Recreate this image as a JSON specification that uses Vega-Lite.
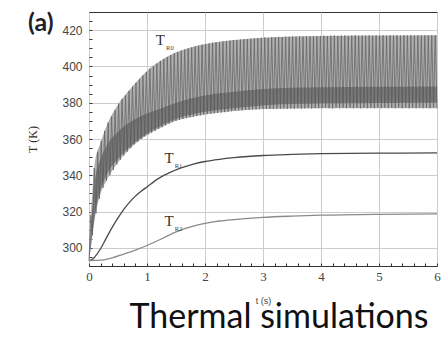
{
"$schema": "https://vega.github.io/schema/vega-lite/v6.json",
"width": 348, "height": 254,
"autosize": "none",
"padding": {"left": 89, "top": 12, "right": 4, "bottom": 72},
"background": "white",
"config": {"view": {"stroke": "#333333", "strokeWidth": 1}},
"title": {"text": "Thermal simulations", "orient": "bottom", "anchor": "middle", "font": "Lato", "fontSize": 34, "fontWeight": "normal", "color": "#111", "offset": -4, "dx": 16},
"datasets": {
"env": [
{"t":0,"lo":293,"v":293},
{"t":0.03,"lo":299,"v":318},
{"t":0.06,"lo":307,"v":332},
{"t":0.1,"lo":316,"v":347},
{"t":0.2,"lo":330,"v":358},
{"t":0.3,"lo":337,"v":367},
{"t":0.5,"lo":347,"v":379},
{"t":0.75,"lo":356,"v":389},
{"t":1.0,"lo":362,"v":397.5},
{"t":1.25,"lo":366.5,"v":403.5},
{"t":1.5,"lo":370,"v":407.8},
{"t":1.75,"lo":372,"v":410.5},
{"t":2.0,"lo":373.5,"v":412.3},
{"t":2.5,"lo":375.5,"v":414.5},
{"t":3.0,"lo":376.5,"v":415.8},
{"t":4.0,"lo":377,"v":416.8},
{"t":5.0,"lo":377,"v":417},
{"t":6.0,"lo":377,"v":417.2}
],
"band": [
{"t":0,"lo":293,"v":293},
{"t":0.05,"lo":306,"v":318},
{"t":0.1,"lo":318,"v":336},
{"t":0.2,"lo":332,"v":349},
{"t":0.3,"lo":340,"v":356},
{"t":0.5,"lo":349,"v":364},
{"t":0.75,"lo":357,"v":370},
{"t":1.0,"lo":363,"v":374},
{"t":1.25,"lo":367.5,"v":377},
{"t":1.5,"lo":371,"v":380},
{"t":2.0,"lo":375,"v":384},
{"t":2.5,"lo":377,"v":386},
{"t":3.0,"lo":378.5,"v":387.5},
{"t":4.0,"lo":379.5,"v":388.5},
{"t":6.0,"lo":380,"v":389}
],
"osc": [
{"t":0,"v":293},{"t":0.03,"v":318},{"t":0.06,"v":307},{"t":0.09,"v":344},{"t":0.12,"v":319},{"t":0.15,"v":353},{"t":0.18,"v":327},{"t":0.21,"v":359},{"t":0.24,"v":333},{"t":0.27,"v":364.5},
{"t":0.30,"v":337},{"t":0.33,"v":369},{"t":0.36,"v":340},{"t":0.39,"v":372.5},{"t":0.42,"v":343},{"t":0.45,"v":376},{"t":0.48,"v":346},{"t":0.51,"v":379.5},{"t":0.54,"v":348.5},{"t":0.57,"v":382},
{"t":0.60,"v":351},{"t":0.63,"v":384},{"t":0.66,"v":353},{"t":0.69,"v":386.5},{"t":0.72,"v":355},{"t":0.75,"v":389},{"t":0.78,"v":357},{"t":0.81,"v":391},{"t":0.84,"v":358.5},{"t":0.87,"v":393},
{"t":0.90,"v":360},{"t":0.93,"v":395},{"t":0.96,"v":361.5},{"t":0.99,"v":397},{"t":1.02,"v":362.5},{"t":1.05,"v":398.8},{"t":1.08,"v":363.5},{"t":1.11,"v":400.2},{"t":1.14,"v":364.5},{"t":1.17,"v":401.6},
{"t":1.20,"v":365.5},{"t":1.23,"v":403},{"t":1.26,"v":366.5},{"t":1.29,"v":404.1},{"t":1.32,"v":367.5},{"t":1.35,"v":405.2},{"t":1.38,"v":368.5},{"t":1.41,"v":406.2},{"t":1.44,"v":369.3},{"t":1.47,"v":407.2},
{"t":1.50,"v":370},{"t":1.53,"v":408},{"t":1.56,"v":370.5},{"t":1.59,"v":408.7},{"t":1.62,"v":371},{"t":1.65,"v":409.3},{"t":1.68,"v":371.5},{"t":1.71,"v":409.9},{"t":1.74,"v":372},{"t":1.77,"v":410.5},
{"t":1.80,"v":372.3},{"t":1.83,"v":411},{"t":1.86,"v":372.6},{"t":1.89,"v":411.4},{"t":1.92,"v":373},{"t":1.95,"v":411.9},{"t":1.98,"v":373.4},{"t":2.01,"v":412.3},{"t":2.04,"v":373.7},{"t":2.07,"v":412.6},
{"t":2.10,"v":374},{"t":2.13,"v":413},{"t":2.16,"v":374.2},{"t":2.19,"v":413.3},{"t":2.22,"v":374.4},{"t":2.25,"v":413.5},{"t":2.28,"v":374.6},{"t":2.31,"v":413.8},{"t":2.34,"v":374.8},{"t":2.37,"v":414},
{"t":2.40,"v":375},{"t":2.43,"v":414.2},{"t":2.46,"v":375.3},{"t":2.49,"v":414.5},{"t":2.52,"v":375.5},{"t":2.55,"v":414.6},{"t":2.58,"v":375.7},{"t":2.61,"v":414.8},{"t":2.64,"v":375.8},{"t":2.67,"v":415},
{"t":2.70,"v":376},{"t":2.73,"v":415.1},{"t":2.76,"v":376},{"t":2.79,"v":415.3},{"t":2.82,"v":376.2},{"t":2.85,"v":415.4},{"t":2.88,"v":376.3},{"t":2.91,"v":415.6},{"t":2.94,"v":376.4},{"t":2.97,"v":415.8},
{"t":3.00,"v":376.5},{"t":3.03,"v":416},{"t":3.06,"v":376.5},{"t":3.09,"v":415.8},{"t":3.12,"v":376.6},{"t":3.15,"v":416.1},{"t":3.18,"v":376.5},{"t":3.21,"v":416},{"t":3.24,"v":376.7},{"t":3.27,"v":416.3},
{"t":3.30,"v":376.6},{"t":3.33,"v":416.2},{"t":3.36,"v":376.8},{"t":3.39,"v":416.4},{"t":3.42,"v":376.6},{"t":3.45,"v":416.3},{"t":3.48,"v":376.8},{"t":3.51,"v":416.5},{"t":3.54,"v":376.7},{"t":3.57,"v":416.4},
{"t":3.60,"v":376.9},{"t":3.63,"v":416.6},{"t":3.66,"v":376.7},{"t":3.69,"v":416.5},{"t":3.72,"v":376.9},{"t":3.75,"v":416.7},{"t":3.78,"v":377},{"t":3.81,"v":416.6},{"t":3.84,"v":376.8},{"t":3.87,"v":416.8},
{"t":3.90,"v":377},{"t":3.93,"v":416.7},{"t":3.96,"v":377},{"t":3.99,"v":416.8},{"t":4.02,"v":377},{"t":4.05,"v":417},{"t":4.08,"v":377.3},{"t":4.11,"v":416.8},{"t":4.14,"v":377},{"t":4.17,"v":417},
{"t":4.20,"v":376.8},{"t":4.23,"v":417.1},{"t":4.26,"v":377.3},{"t":4.29,"v":416.9},{"t":4.32,"v":377},{"t":4.35,"v":417},{"t":4.38,"v":377.3},{"t":4.41,"v":417.1},{"t":4.44,"v":377},{"t":4.47,"v":416.9},
{"t":4.50,"v":377.3},{"t":4.53,"v":417},{"t":4.56,"v":377},{"t":4.59,"v":417.2},{"t":4.62,"v":377.3},{"t":4.65,"v":417},{"t":4.68,"v":376.9},{"t":4.71,"v":417.1},{"t":4.74,"v":377.3},{"t":4.77,"v":417},
{"t":4.80,"v":377},{"t":4.83,"v":417.2},{"t":4.86,"v":377.3},{"t":4.89,"v":417},{"t":4.92,"v":377},{"t":4.95,"v":417.1},{"t":4.98,"v":377.3},{"t":5.01,"v":417},{"t":5.04,"v":377},{"t":5.07,"v":417.2},
{"t":5.10,"v":377.3},{"t":5.13,"v":417},{"t":5.16,"v":377},{"t":5.19,"v":417.2},{"t":5.22,"v":377.3},{"t":5.25,"v":417.1},{"t":5.28,"v":377},{"t":5.31,"v":417.2},{"t":5.34,"v":377.3},{"t":5.37,"v":417},
{"t":5.40,"v":377},{"t":5.43,"v":417.2},{"t":5.46,"v":377.3},{"t":5.49,"v":417.1},{"t":5.52,"v":377},{"t":5.55,"v":417.2},{"t":5.58,"v":377.3},{"t":5.61,"v":417.1},{"t":5.64,"v":377},{"t":5.67,"v":417.2},
{"t":5.70,"v":377.3},{"t":5.73,"v":417.1},{"t":5.76,"v":377},{"t":5.79,"v":417.2},{"t":5.82,"v":377.3},{"t":5.85,"v":417.1},{"t":5.88,"v":377},{"t":5.91,"v":417.2},{"t":5.94,"v":377.3},{"t":5.97,"v":417.2},
{"t":6.00,"v":377}
],
"curves": [
{"t":0,"v":293,"s":"R1"},{"t":0.05,"v":293.5,"s":"R1"},{"t":0.1,"v":295,"s":"R1"},{"t":0.2,"v":299.5,"s":"R1"},{"t":0.3,"v":305.5,"s":"R1"},{"t":0.4,"v":311.3,"s":"R1"},{"t":0.5,"v":316.5,"s":"R1"},{"t":0.6,"v":321.2,"s":"R1"},{"t":0.7,"v":325.2,"s":"R1"},{"t":0.8,"v":328.5,"s":"R1"},{"t":0.9,"v":331.2,"s":"R1"},{"t":1.0,"v":333.6,"s":"R1"},{"t":1.2,"v":338.3,"s":"R1"},{"t":1.4,"v":341.6,"s":"R1"},{"t":1.6,"v":344.2,"s":"R1"},{"t":1.8,"v":346.2,"s":"R1"},{"t":2.0,"v":347.6,"s":"R1"},{"t":2.25,"v":348.8,"s":"R1"},{"t":2.5,"v":349.7,"s":"R1"},{"t":3.0,"v":350.9,"s":"R1"},{"t":3.5,"v":351.5,"s":"R1"},{"t":4.0,"v":351.9,"s":"R1"},{"t":5.0,"v":352.2,"s":"R1"},{"t":6.0,"v":352.3,"s":"R1"},
{"t":0,"v":293,"s":"R2"},{"t":0.2,"v":293.2,"s":"R2"},{"t":0.4,"v":294.5,"s":"R2"},{"t":0.6,"v":296.6,"s":"R2"},{"t":0.8,"v":298.8,"s":"R2"},{"t":1.0,"v":301.3,"s":"R2"},{"t":1.2,"v":304.2,"s":"R2"},{"t":1.4,"v":307.3,"s":"R2"},{"t":1.6,"v":310,"s":"R2"},{"t":1.8,"v":312,"s":"R2"},{"t":2.0,"v":313.5,"s":"R2"},{"t":2.25,"v":314.8,"s":"R2"},{"t":2.5,"v":315.6,"s":"R2"},{"t":3.0,"v":316.8,"s":"R2"},{"t":3.5,"v":317.5,"s":"R2"},{"t":4.0,"v":318,"s":"R2"},{"t":5.0,"v":318.5,"s":"R2"},{"t":6.0,"v":318.7,"s":"R2"}
],
"lab": [
{"t":1.23,"v":414.5,"sub":"R0"},{"t":1.38,"v":349.5,"sub":"R1"},{"t":1.38,"v":314.7,"sub":"R2"}
],
"tag": [{"t":-0.83,"v":424,"txt":"(a)"}]
},
"encoding": {
"x": {"field": "t", "type": "quantitative", "scale": {"domain": [0, 6], "nice": false},
"axis": {
"values": [0,0.2,0.4,0.6,0.8,1,1.2,1.4,1.6,1.8,2,2.2,2.4,2.6,2.8,3,3.2,3.4,3.6,3.8,4,4.2,4.4,4.6,4.8,5,5.2,5.4,5.6,5.8,6],
"title": "t (s)", "titleFont": "Liberation Sans", "titleFontSize": 9, "titleFontWeight": "normal", "titleColor": "#444", "titlePadding": 13,
"labelFont": "Liberation Serif", "labelFontSize": 13, "labelColor": "#444", "labelPadding": 7,
"labelExpr": "datum.value % 1 === 0 ? '' + datum.value : ''",
"labelOverlap": false, "labelFlush": false, "labelBound": false,
"tickSize": -3,
"tickColor": "#333", "domain": false,
"grid": true, "gridColor": "#cccccc", "gridWidth": 1,
"gridOpacity": {"condition": {"test": "datum.value % 1 === 0", "value": 1}, "value": 0}
}},
"y": {"field": "v", "type": "quantitative", "scale": {"domain": [290, 430], "nice": false, "zero": false},
"axis": {
"values": [290,295,300,305,310,315,320,325,330,335,340,345,350,355,360,365,370,375,380,385,390,395,400,405,410,415,420,425,430],
"title": "T (K)", "titleFont": "Liberation Serif", "titleFontSize": 12, "titleFontWeight": "normal", "titleColor": "#333", "titlePadding": 22,
"labelFont": "Liberation Sans", "labelFontSize": 12, "labelColor": "#444", "labelPadding": 10,
"labelExpr": "datum.value % 20 === 0 ? '' + datum.value : ''",
"labelOverlap": false, "labelFlush": false, "labelBound": false,
"tickSize": -3,
"tickColor": "#333", "domain": false,
"grid": true, "gridColor": "#cccccc", "gridWidth": 1,
"gridOpacity": {"condition": {"test": "datum.value % 20 === 0", "value": 1}, "value": 0}
}}
},
"layer": [
{
"data": {"name": "env"},
"mark": {"type": "area", "color": "#b0b0b0", "interpolate": "monotone"},
"encoding": {"y2": {"field": "lo"}}
},
{
"data": {"name": "osc"},
"mark": {"type": "line", "color": "#666666", "strokeWidth": 0.8}
},
{
"data": {"name": "band"},
"mark": {"type": "area", "color": "#555555", "opacity": 0.6, "interpolate": "monotone"},
"encoding": {"y2": {"field": "lo"}}
},
{
"data": {"name": "curves"},
"mark": {"type": "line", "strokeWidth": 1.3, "interpolate": "monotone"},
"encoding": {
"color": {"field": "s", "type": "nominal", "scale": {"domain": ["R1", "R2"], "range": ["#4a4a4a", "#8a8a8a"]}, "legend": null}
}
},
{
"data": {"name": "lab"},
"mark": {"type": "text", "font": "Liberation Serif", "fontSize": 15, "fill": "#333333", "align": "center", "baseline": "middle"},
"encoding": {"text": {"value": "T"}}
},
{
"data": {"name": "lab"},
"mark": {"type": "text", "font": "Liberation Serif", "fontSize": 6.5, "fill": "#444444", "align": "center", "baseline": "middle", "dx": 9.5, "dy": 8},
"encoding": {"text": {"field": "sub"}}
},
{
"data": {"name": "tag"},
"mark": {"type": "text", "font": "Lato", "fontSize": 25, "fontWeight": "bold", "fill": "#1f1f2a", "align": "center", "baseline": "middle"},
"encoding": {"text": {"field": "txt"}}
}
]
}
